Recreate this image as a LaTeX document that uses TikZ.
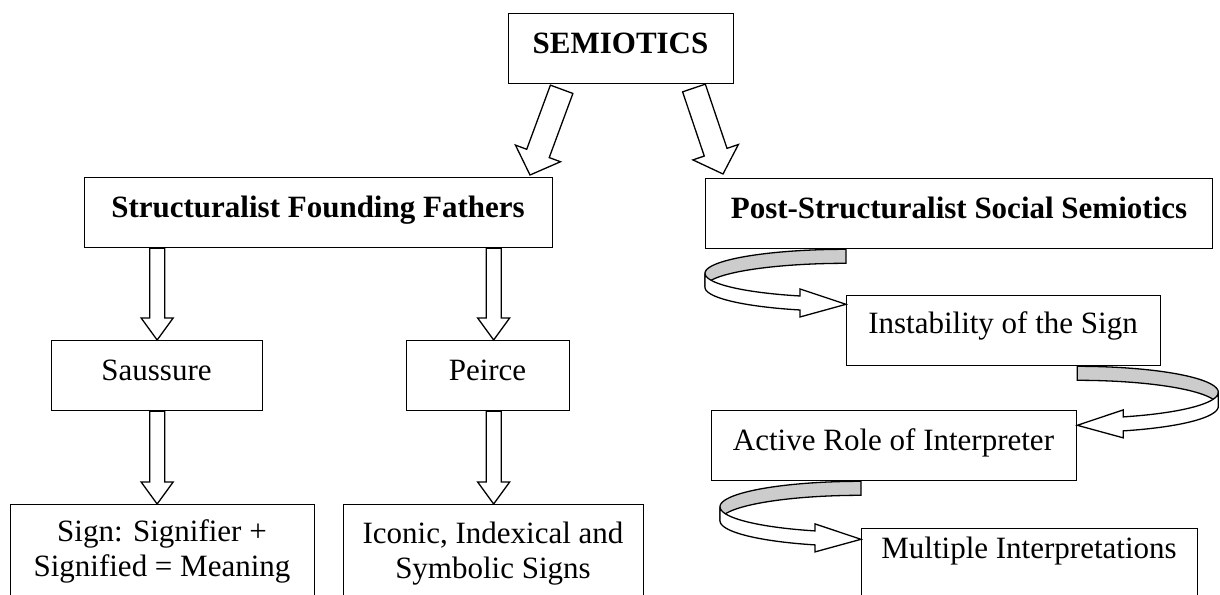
\documentclass[tikz,border=0pt]{standalone}
\usepackage{fontspec}
\setmainfont{Liberation Serif}
\usetikzlibrary{calc}
\definecolor{ribgray}{RGB}{204,204,204}
% block arrow: #1 tail, #2 tip, #3 half shaft, #4 half head, #5 head length
\newcommand\blockarrow[5]{%
  \coordinate (ba-h) at ($(#2)!#5pt!(#1)$);
  \draw[blk] ($(#1)!#3pt!90:(#2)$) -- ($(ba-h)!#3pt!90:(#2)$) -- ($(ba-h)!#4pt!90:(#2)$) -- (#2)
    -- ($(ba-h)!#4pt!-90:(#2)$) -- ($(ba-h)!#3pt!-90:(#2)$) -- ($(#1)!#3pt!-90:(#2)$) -- cycle;}
% curved ribbon arrow: #1 tail coordinate, #2 side (1 turns left, -1 turns right), #3 half height
\newcommand\ribbon[3]{%
  \begin{scope}[shift={(#1)}]
    \filldraw[blk, fill=ribgray] plot[domain=90:180,samples=40,variable=\t] ({(#2)*141*cos(\t)},{#3-#3*sin(\t)})
      -- plot[domain=180:90,samples=40,variable=\t] ({(#2)*141*cos(\t)},{#3+14-#3*sin(\t)}) -- cycle;
    \filldraw[blk] plot[domain=180:250.96,samples=30,variable=\t] ({(#2)*141*cos(\t)},{#3-#3*sin(\t)})
      -- ({0-(#2)*46},{1.945*#3-7}) -- (0,{2*#3+7}) -- ({0-(#2)*46},{1.945*#3+21})
      -- plot[domain=250.96:180,samples=30,variable=\t] ({(#2)*141*cos(\t)},{#3+14-#3*sin(\t)}) -- cycle;
  \end{scope}}
\begin{document}
\begin{tikzpicture}[x=1pt,y=-1pt, line width=1.3pt, line join=miter,
  box/.style={draw, fill=white, rectangle, inner sep=0pt, anchor=north west},
  txt/.style={font=\fontsize{31}{34.5}\selectfont, inner sep=0pt, anchor=base, align=center},
  btxt/.style={inner sep=0pt, anchor=base, font=\fontsize{31}{34.5}\selectfont\bfseries},
  blk/.style={draw=black, fill=white, line width=1.3pt, line join=miter},
]
\useasboundingbox (0,0) rectangle (1220,594);
\clip (0,0) rectangle (1220,594);
\fill[white] (0,0) rectangle (1220,594);

% boxes
\node[box, minimum width=225, minimum height=70] (semi) at (508,13) {};
\node[box, minimum width=468, minimum height=70] (struct) at (84,177) {};
\node[box, minimum width=507, minimum height=70] (post) at (705,178) {};
\node[box, minimum width=211, minimum height=70] (sauss) at (51,340) {};
\node[box, minimum width=163, minimum height=70] (peirce) at (406,340) {};
\node[box, minimum width=304, minimum height=100] (sign) at (10,504) {};
\node[box, minimum width=300, minimum height=100] (iconic) at (343,504) {};
\node[box, minimum width=314, minimum height=70] (instab) at (846,295) {};
\node[box, minimum width=365, minimum height=70] (active) at (711,410) {};
\node[box, minimum width=336, minimum height=80] (multi) at (861,528) {};

% diagonal arrows from SEMIOTICS
\coordinate (dlt) at ($(semi.south)+(-59.5,5)$);
\coordinate (dlp) at ($(struct.north west)+(446,-2)$);
\coordinate (drt) at ($(semi.south)+(72.8,3.7)$);
\coordinate (drp) at ($(post.north west)+(18,-4)$);
\blockarrow{dlt}{dlp}{12}{24}{23}
\blockarrow{drt}{drp}{12}{24}{23}

% vertical arrows
\coordinate (v1t) at (sauss.north |- struct.south);
\coordinate (v1p) at (sauss.north);
\coordinate (v2t) at (iconic.north |- struct.south);
\coordinate (v2p) at (iconic.north |- peirce.north);
\coordinate (v3t) at (sauss.south);
\coordinate (v3p) at (sauss.south |- sign.north);
\coordinate (v4t) at (iconic.north |- peirce.south);
\coordinate (v4p) at (iconic.north);
\blockarrow{v1t}{v1p}{7.5}{16}{22}
\blockarrow{v2t}{v2p}{7.5}{16}{22}
\blockarrow{v3t}{v3p}{7.5}{16}{22}
\blockarrow{v4t}{v4p}{7.5}{16}{22}

% curved ribbon arrows
\coordinate (r1) at (instab.west |- post.south);
\coordinate (r2) at (active.east |- instab.south);
\coordinate (r3) at (multi.west |- active.south);
\ribbon{r1}{1}{24}
\ribbon{r2}{-1}{26}
\ribbon{r3}{1}{25.5}

% texts
\node[btxt] (t-semi) at (620.5,53) {SEMIOTICS};
\node[btxt] (t-struct) at (318,217) {Structuralist Founding Fathers};
\node[btxt] (t-post) at (959,218) {Post-Structuralist Social Semiotics};
\node[txt] (t-sauss) at (156.5,380) {Saussure};
\node[txt] (t-peirce) at (487.5,380) {Peirce};
\node[txt] (t-sign) at (162,576) {Sign: Signifier +\\Signified = Meaning};
\node[txt] (t-iconic) at (493,578) {Iconic, Indexical and\\Symbolic Signs};
\node[txt] (t-instab) at (1003,333) {Instability of the Sign};
\node[txt] (t-active) at (893.5,450) {Active Role of Interpreter};
\node[txt] (t-multi) at (1029,558) {Multiple Interpretations};
\end{tikzpicture}
\end{document}
